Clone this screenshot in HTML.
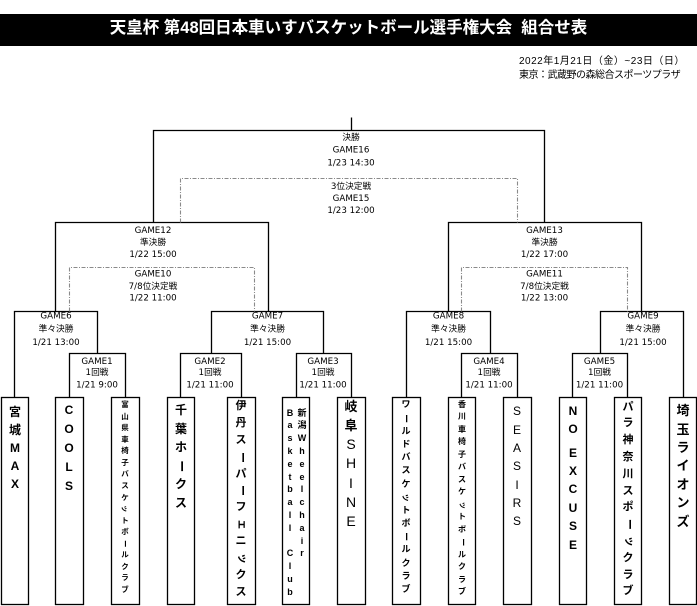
<!DOCTYPE html>
<html><head><meta charset="utf-8">
<style>
*{margin:0;padding:0;box-sizing:border-box}
html,body{width:697px;height:606px;background:#fff;overflow:hidden;position:relative}
.bar{position:absolute;left:0;top:14px;width:697px;height:32px;background:#000}
.title{position:absolute;left:0;top:14px;width:697px;height:29px;line-height:29px;text-align:center;color:#fff;font-family:"Liberation Sans","Noto Sans CJK JP",sans-serif;font-weight:bold;font-size:16.5px;white-space:nowrap}
.date{position:absolute;left:519px;font-family:"Liberation Sans","Noto Sans CJK JP",sans-serif;font-size:10px;line-height:12px;white-space:nowrap;color:#000}
svg{position:absolute;left:0;top:0}
.tb{position:absolute;font-family:"Liberation Sans","Noto Sans CJK JP",sans-serif;font-weight:bold;text-align:center;color:#000}
.tb p{height:var(--h);line-height:var(--h);white-space:nowrap}
.r{display:inline-block;transform:rotate(90deg)}
.n{font-weight:normal}
</style></head><body>
<div class="bar"></div>
<div class="title">天皇杯 第48回日本車いすバスケットボール選手権大会&nbsp;&nbsp;組合せ表</div>
<div class="date" style="top:56px;letter-spacing:0.5px">2022年1月21日（金）~23日（日）</div>
<div class="date" style="top:70px;letter-spacing:-0.5px">東京：武蔵野の森総合スポーツプラザ</div>

<svg width="697" height="606" viewBox="0 0 697 606">
<g transform="translate(0.5,0.5)" fill="none" stroke="#000" stroke-width="1.3">
<path d="M351,117V130M153,222V130H544V222"/>
<path d="M55,311V222H268V311"/>
<path d="M448,311V222H641V311"/>
<path d="M14,397V311H97V353"/>
<path d="M211,353V311H323V353"/>
<path d="M406,397V311H490V353"/>
<path d="M600,353V311H683V397"/>
<path d="M69,397V353H125V397"/>
<path d="M180,397V353H241V397"/>
<path d="M296,397V353H351V397"/>
<path d="M461,397V353H517V397"/>
<path d="M572,397V353H627V397"/>
<rect x="1" y="397" width="27" height="207"/>
<rect x="55" y="397" width="28" height="207"/>
<rect x="111" y="397" width="28" height="207"/>
<rect x="167" y="397" width="27" height="207"/>
<rect x="227" y="397" width="28" height="207"/>
<rect x="282" y="397" width="27" height="207"/>
<rect x="337" y="397" width="28" height="207"/>
<rect x="392" y="397" width="28" height="207"/>
<rect x="448" y="397" width="27" height="207"/>
<rect x="503" y="397" width="28" height="207"/>
<rect x="559" y="397" width="27" height="207"/>
<rect x="614" y="397" width="27" height="207"/>
<rect x="669" y="397" width="27" height="207"/>
</g>
<g transform="translate(0.5,0.5)" fill="none" stroke="#8a8a8a" stroke-width="1.1" stroke-dasharray="4 1.5 1 1.5">
<path d="M180,222V178H517V222"/>
<path d="M69,311V267H254V311"/>
<path d="M461,311V267H627V311"/>
</g>
<g font-family="DejaVu Sans, Noto Sans CJK JP, sans-serif" font-size="8.7" text-anchor="middle" fill="#000">
<text x="351" y="140">決勝</text><text x="351" y="152.5">GAME16</text><text x="351" y="165.5">1/23 14:30</text>
<text x="351" y="189">3位決定戦</text><text x="351" y="201">GAME15</text><text x="351" y="213.2">1/23 12:00</text>
<text x="153" y="233.2">GAME12</text><text x="153" y="245.2">準決勝</text><text x="153" y="257.2">1/22 15:00</text>
<text x="153" y="276.5">GAME10</text><text x="153" y="289.2">7/8位決定戦</text><text x="153" y="300.7">1/22 11:00</text>
<text x="544.5" y="233.2">GAME13</text><text x="544.5" y="245.2">準決勝</text><text x="544.5" y="257.2">1/22 17:00</text>
<text x="544.5" y="276.5">GAME11</text><text x="544.5" y="289.2">7/8位決定戦</text><text x="544.5" y="300.7">1/22 13:00</text>
<text x="56" y="318.7">GAME6</text><text x="56" y="331.7">準々決勝</text><text x="56" y="345.2">1/21 13:00</text>
<text x="267.5" y="318.7">GAME7</text><text x="267.5" y="331.7">準々決勝</text><text x="267.5" y="345.2">1/21 15:00</text>
<text x="448.5" y="318.7">GAME8</text><text x="448.5" y="331.7">準々決勝</text><text x="448.5" y="345.2">1/21 15:00</text>
<text x="643" y="318.7">GAME9</text><text x="643" y="331.7">準々決勝</text><text x="643" y="345.2">1/21 15:00</text>
<text x="97" y="363.9">GAME1</text><text x="97" y="375.2">1回戦</text><text x="97" y="387.5">1/21 9:00</text>
<text x="210" y="363.9">GAME2</text><text x="210" y="375.2">1回戦</text><text x="210" y="387.5">1/21 11:00</text>
<text x="323" y="363.9">GAME3</text><text x="323" y="375.2">1回戦</text><text x="323" y="387.5">1/21 11:00</text>
<text x="489" y="363.9">GAME4</text><text x="489" y="375.2">1回戦</text><text x="489" y="387.5">1/21 11:00</text>
<text x="599.5" y="363.9">GAME5</text><text x="599.5" y="375.2">1回戦</text><text x="599.5" y="387.5">1/21 11:00</text>
</g>
</svg>

<div class="tb" style="left:1px;width:28px;top:402.5px;font-size:12px;--h:18px"><p>宮</p><p>城</p><p>M</p><p>A</p><p>X</p></div>
<div class="tb" style="left:55px;width:28px;top:400.5px;font-size:12px;--h:19px"><p>C</p><p>O</p><p>O</p><p>L</p><p>S</p></div>
<div class="tb" style="left:111px;width:28px;top:399.2px;font-size:7.5px;--h:11.56px"><p>富</p><p>山</p><p>県</p><p>車</p><p>椅</p><p>子</p><p>バ</p><p>ス</p><p>ケ</p><p><span class="r">ッ</span></p><p>ト</p><p>ボ</p><p><span class="r">ー</span></p><p>ル</p><p>ク</p><p>ラ</p><p>ブ</p></div>
<div class="tb" style="left:167px;width:28px;top:401.25px;font-size:12px;--h:18.5px"><p>千</p><p>葉</p><p>ホ</p><p><span class="r">ー</span></p><p>ク</p><p>ス</p></div>
<div class="tb" style="left:227px;width:28px;top:398px;font-size:11px;--h:16.9px"><p>伊</p><p>丹</p><p>ス</p><p><span class="r">ー</span></p><p>パ</p><p><span class="r">ー</span></p><p>フ</p><p><span class="r">ェ</span></p><p>ニ</p><p><span class="r">ッ</span></p><p>ク</p><p>ス</p></div>
<div class="tb" style="left:296px;width:12px;top:406.6px;font-size:9px;--h:12.8px"><p>新</p><p>潟</p><p>W</p><p>h</p><p>e</p><p>e</p><p>l</p><p>c</p><p>h</p><p>a</p><p>i</p><p>r</p></div>
<div class="tb" style="left:284px;width:12px;top:406.6px;font-size:9px;--h:12.8px"><p>B</p><p>a</p><p>s</p><p>k</p><p>e</p><p>t</p><p>b</p><p>a</p><p>l</p><p>l</p><p>&nbsp;</p><p>C</p><p>l</p><p>u</p><p>b</p></div>
<div class="tb" style="left:337px;width:28px;top:396.9px;font-size:14px;--h:19.2px"><p style="font-size:13px">岐</p><p style="font-size:13px">阜</p><p class="n">S</p><p class="n">H</p><p class="n">I</p><p class="n">N</p><p class="n">E</p></div>
<div class="tb" style="left:392px;width:28px;top:398.4px;font-size:9px;--h:13.2px"><p>ワ</p><p><span class="r">ー</span></p><p>ル</p><p>ド</p><p>バ</p><p>ス</p><p>ケ</p><p><span class="r">ッ</span></p><p>ト</p><p>ボ</p><p><span class="r">ー</span></p><p>ル</p><p>ク</p><p>ラ</p><p>ブ</p></div>
<div class="tb" style="left:448px;width:28px;top:398.75px;font-size:8px;--h:12.5px"><p>香</p><p>川</p><p>車</p><p>椅</p><p>子</p><p>バ</p><p>ス</p><p>ケ</p><p><span class="r">ッ</span></p><p>ト</p><p>ボ</p><p><span class="r">ー</span></p><p>ル</p><p>ク</p><p>ラ</p><p>ブ</p></div>
<div class="tb" style="left:503px;width:28px;top:402.35px;font-size:12px;--h:18.3px;font-weight:normal"><p>S</p><p>E</p><p>A</p><p>S</p><p>I</p><p>R</p><p>S</p></div>
<div class="tb" style="left:559px;width:28px;top:401.5px;font-size:12px;--h:18.4px"><p>N</p><p>O</p><p style="height:5.3px;line-height:5.3px">&nbsp;</p><p>E</p><p>X</p><p>C</p><p>U</p><p>S</p><p>E</p></div>
<div class="tb" style="left:614px;width:28px;top:398.6px;font-size:11px;--h:16.8px"><p>パ</p><p>ラ</p><p>神</p><p>奈</p><p>川</p><p>ス</p><p>ポ</p><p><span class="r">ー</span></p><p><span class="r">ッ</span></p><p>ク</p><p>ラ</p><p>ブ</p></div>
<div class="tb" style="left:669px;width:28px;top:402.3px;font-size:13px;--h:18.4px"><p>埼</p><p>玉</p><p>ラ</p><p>イ</p><p>オ</p><p>ン</p><p>ズ</p></div>
</body></html>
